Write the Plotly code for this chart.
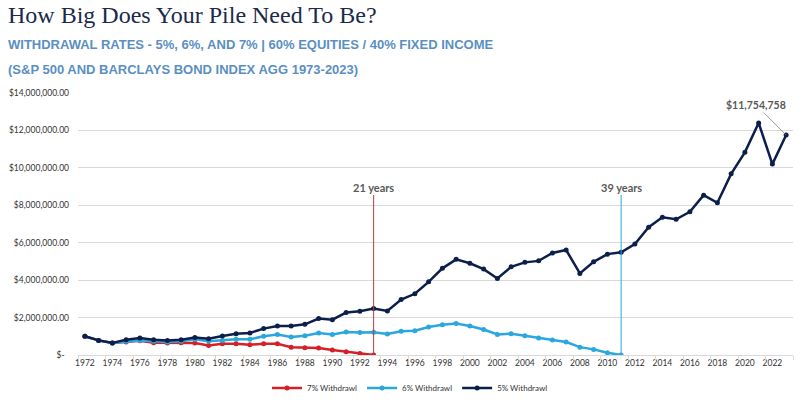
import plotly.graph_objects as go

years = list(range(1972, 2024))

w5 = [1.00, 0.78, 0.64, 0.82, 0.91, 0.82, 0.78, 0.82, 0.94, 0.87,
      1.01, 1.14, 1.18, 1.41, 1.55, 1.55, 1.64, 1.95, 1.89, 2.27,
      2.34, 2.48, 2.35, 2.96, 3.27, 3.91, 4.63, 5.11, 4.90, 4.59,
      4.09, 4.71, 4.95, 5.03, 5.45, 5.61, 4.36, 4.98, 5.39, 5.49,
      5.93, 6.83, 7.36, 7.25, 7.65, 8.54, 8.13, 9.68, 10.83, 12.40,
      10.20, 11.754758]
w6 = [1.00, 0.78, 0.64, 0.73, 0.78, 0.73, 0.69, 0.73, 0.84, 0.73,
      0.78, 0.84, 0.84, 1.00, 1.09, 0.96, 1.03, 1.18, 1.09, 1.23,
      1.20, 1.21, 1.12, 1.27, 1.30, 1.50, 1.62, 1.68, 1.55, 1.36,
      1.10, 1.14, 1.03, 0.91, 0.80, 0.69, 0.42, 0.30, 0.12, 0.00]
w7 = [1.00, 0.78, 0.64, 0.69, 0.76, 0.66, 0.64, 0.66, 0.64, 0.51,
      0.60, 0.60, 0.55, 0.60, 0.60, 0.42, 0.39, 0.37, 0.27, 0.17,
      0.08, 0.00]

series_names = ["7% Withdrawl", "6% Withdrawl", "5% Withdrawl"]
series_values = [w7, w6, w5]
series_colors = ["#d42027", "#2aa7de", "#0c1f4b"]

y_tickvals = [0, 2e6, 4e6, 6e6, 8e6, 10e6, 12e6, 14e6]
y_ticktext = ["$-\u00a0\u00a0", "$2,000,000.00", "$4,000,000.00", "$6,000,000.00",
              "$8,000,000.00", "$10,000,000.00", "$12,000,000.00", "$14,000,000.00"]
x_tickvals = list(range(1972, 2023, 2))

title = "How Big Does Your Pile Need To Be?"
subtitle1 = "WITHDRAWAL RATES - 5%, 6%, AND 7% | 60% EQUITIES / 40% FIXED INCOME"
subtitle2 = "(S&P 500 AND BARCLAYS BOND INDEX AGG 1973-2023)"

fig = go.Figure()
for name, vals, col in zip(series_names, series_values, series_colors):
    fig.add_trace(go.Scatter(
        x=years[:len(vals)], y=[v * 1e6 for v in vals], name=name,
        mode="lines+markers", line=dict(color=col, width=2.5),
        marker=dict(color=col, size=5),
    ))

# tick marks between categories (overlay axis)
fig.add_trace(go.Scatter(x=[years[0]], y=[None], xaxis="x2", showlegend=False, hoverinfo="skip"))

# depletion annotations
for vals, col in [(w7, "#c43a3a"), (w6, "#2aa7de")]:
    idx = vals.index(0.0)
    yr = years[idx]
    fig.add_annotation(x=yr, y=0, xref="x", yref="y", text=f"<b>{yr - years[0]} years</b>",
                       showarrow=True, arrowhead=0, arrowwidth=1, arrowcolor=col,
                       ax=0, ay=-168, font=dict(family="Lato", size=11, color="#595959"))

last_val = w5[-1] * 1e6
fig.add_annotation(x=years[-1], y=last_val, xref="x", yref="y",
                   text=f"<b>${last_val:,.0f}</b>", showarrow=True, arrowhead=0,
                   arrowwidth=0.8, arrowcolor="#7f7f7f", ax=-30, ay=-30,
                   font=dict(family="Lato", size=10.5, color="#595959"))

# title block
L, W, T, H = 78, 715, 93, 262
def px(x): return (x - L) / W
def py(y): return (T + H - y) / H

fig.add_annotation(x=px(6), y=py(15), xref="paper", yref="paper", text=title,
                   showarrow=False, xanchor="left", yanchor="middle",
                   font=dict(family="Liberation Serif", size=24, color="#1b2a4a"))
fig.add_annotation(x=px(6), y=py(45), xref="paper", yref="paper", text=f"<b>{subtitle1}</b>",
                   showarrow=False, xanchor="left", yanchor="middle",
                   font=dict(family="Liberation Sans", size=13, color="#5b8fc2"))
fig.add_annotation(x=px(6), y=py(69), xref="paper", yref="paper", text=f"<b>{subtitle2}</b>",
                   showarrow=False, xanchor="left", yanchor="middle",
                   font=dict(family="Liberation Sans", size=13, color="#5b8fc2"))

fig.update_layout(
    width=803, height=413,
    margin=dict(l=L, r=803 - L - W, t=T, b=413 - T - H),
    paper_bgcolor="white", plot_bgcolor="white",
    showlegend=True,
    legend=dict(orientation="h", x=px(410), y=py(388), xanchor="center", yanchor="middle",
                font=dict(family="Lato", size=8, color="#333333"), itemwidth=30),
    xaxis=dict(range=[1971.5, 2023.5], tickvals=x_tickvals, showgrid=False,
               showline=True, linecolor="#d9d9d9", linewidth=1, zeroline=False,
               ticks="", tickfont=dict(family="Lato", size=8.5, color="#333333")),
    xaxis2=dict(range=[1971.5, 2023.5], overlaying="x", side="bottom",
                tickvals=[y + 0.5 for y in range(1971, 2024, 2)], showticklabels=False,
                ticks="outside", ticklen=4, tickcolor="#d9d9d9", showgrid=False, showline=False),
    yaxis=dict(range=[0, 14e6], tickvals=y_tickvals, ticktext=y_ticktext,
               showgrid=True, gridcolor="#d9d9d9", zeroline=False, showline=False,
               ticks="", ticklen=0, ticklabelstandoff=8,
               tickfont=dict(family="Lato", size=8.5, color="#333333")),
)

fig.write_html("out.html", config={"displayModeBar": False},
               post_script="document.body.style.margin='0';document.body.style.overflow='hidden';")
